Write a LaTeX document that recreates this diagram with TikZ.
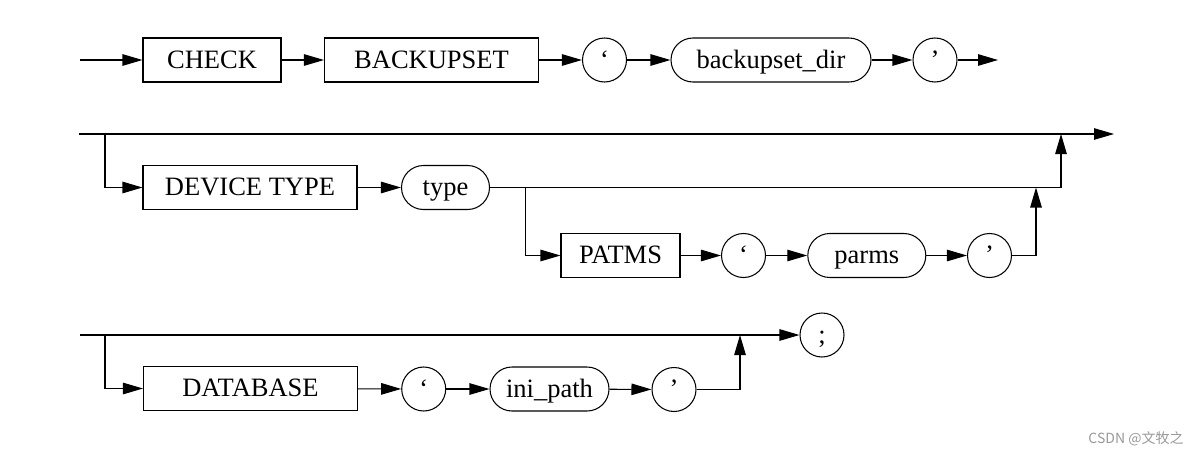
\documentclass[tikz,border=0pt]{standalone}
\usepackage{fontspec}
\setmainfont{Liberation Serif}
\newfontfamily\cjkwm{Noto Sans CJK SC}
\usetikzlibrary{arrows.meta,shapes.geometric}
\tikzset{
  base/.style={draw=black, line width=1.05pt, inner sep=0pt, minimum height=44pt,
    font=\fontsize{26.5}{30}\selectfont, text height=19.5pt, text depth=3.5pt},
  kw/.style={base, rectangle},
  pill/.style={base, rectangle, rounded corners=22pt},
  rnd/.style={base, circle, minimum size=44pt},
  arr/.style={line width=1.05pt, -{Triangle[length=20pt,width=11.5pt]}},
  wm/.style={font=\cjkwm\fontsize{14}{16}\selectfont, text=black!40, inner sep=0pt}
}
\begin{document}
\begin{tikzpicture}[x=1pt,y=-1pt]
\useasboundingbox (0,0) rectangle (1202,455);
% Row 1
\coordinate (s1) at (80,60);
\node[kw, minimum width=138pt] (check) at (212,60) {CHECK};
\node[kw, minimum width=214pt] (backupset) at (431.5,60) {BACKUPSET};
\node[rnd] (q1) at (604.5,60) {‘};
\node[pill, minimum width=200pt] (bdir) at (771,60) {backupset\_dir};
\node[rnd] (q2) at (935,60) {’};
\coordinate (e1) at (998,60);
\draw[arr] (s1) -- (check);
\draw[arr] (check) -- (backupset);
\draw[arr] (backupset) -- (q1);
\draw[arr] (q1) -- (bdir);
\draw[arr] (bdir) -- (q2);
\draw[arr] (q2) -- (e1);
% Row 2
\coordinate (r2s) at (79,134);
\coordinate (r2e) at (1114,134);
\coordinate (r2d) at (105,134);
\node[kw, minimum width=214pt] (devtype) at (250,187.5) {DEVICE TYPE};
\node[pill, minimum width=88pt] (type) at (445.5,187.5) {type};
\coordinate (j1) at (525.5,187.5);
\coordinate (j2top) at (1061,134);
\node[kw, minimum width=119pt] (patms) at (620.5,255.5) {PATMS};
\node[rnd] (q3) at (743.5,255.5) {‘};
\node[pill, minimum width=118pt] (parms) at (866.8,255.5) {parms};
\node[rnd] (q4) at (989.5,255.5) {’};
\coordinate (k1top) at (1036,187.5);
\draw[arr] (r2s) -- (r2e);
\draw[arr] (r2d) |- (devtype);
\draw[arr] (devtype) -- (type);
\draw[arr] (type) -| (j2top);
\draw[arr] (j1) |- (patms);
\draw[arr] (patms) -- (q3);
\draw[arr] (q3) -- (parms);
\draw[arr] (parms) -- (q4);
\draw[arr] (q4) -| (k1top);
% Row 3
\coordinate (r3s) at (80,335);
\coordinate (r3d) at (105,335);
\node[rnd] (semi) at (822,335) {;};
\node[kw, minimum width=214pt] (database) at (250.5,388.5) {DATABASE};
\node[rnd] (q5) at (423.7,389) {‘};
\node[pill, minimum width=119pt] (inipath) at (549.5,389) {ini\_path};
\node[rnd] (q6) at (674,389.5) {’};
\coordinate (r3j) at (740,335);
\draw[arr] (r3s) -- (semi);
\draw[arr] (r3d) |- (database);
\draw[arr] (database) -- (q5);
\draw[arr] (q5) -- (inipath);
\draw[arr] (inipath) -- (q6);
\draw[arr] (q6) -| (r3j);
% watermark
\node[wm] (mark) at (1136,439) {CSDN @文牧之};
\end{tikzpicture}
\end{document}
